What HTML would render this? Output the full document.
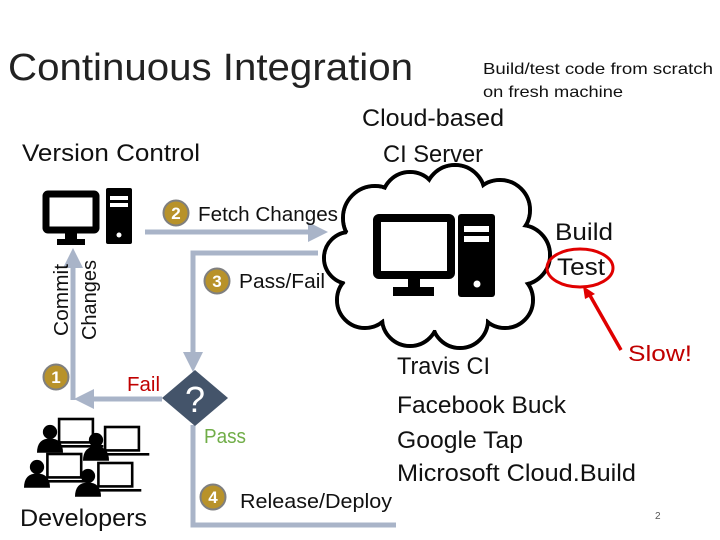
<!DOCTYPE html>
<html><head><meta charset="utf-8"><style>
html,body{margin:0;padding:0;background:#fff;width:720px;height:540px;overflow:hidden}
svg{display:block}
text{font-family:"Liberation Sans",sans-serif}
</style></head><body>
<svg width="720" height="540" viewBox="0 0 720 540" xmlns="http://www.w3.org/2000/svg">
<defs>
<marker id="ah" markerWidth="4" markerHeight="4" refX="2" refY="2" orient="auto" markerUnits="strokeWidth">
<path d="M0,0 L4,2 L0,4 z" fill="#a9b4c8"/></marker>
</defs>
<text x="8" y="80" font-size="38" fill="#222" textLength="405" lengthAdjust="spacingAndGlyphs">Continuous Integration</text>
<text x="483" y="74" font-size="16" fill="#111" textLength="230" lengthAdjust="spacingAndGlyphs">Build/test code from scratch</text>
<text x="483" y="97" font-size="16" fill="#111" textLength="140" lengthAdjust="spacingAndGlyphs">on fresh machine</text>
<text x="362" y="126" font-size="24" fill="#111" textLength="142" lengthAdjust="spacingAndGlyphs">Cloud-based</text>
<text x="383" y="162" font-size="24" fill="#111" textLength="100" lengthAdjust="spacingAndGlyphs">CI Server</text>
<text x="22" y="161" font-size="24" fill="#111" textLength="178" lengthAdjust="spacingAndGlyphs">Version Control</text>

<rect x="46" y="194" width="50" height="36" fill="none" stroke="#000" stroke-width="7" rx="2"/>
<rect x="65" y="232" width="12" height="8" fill="#000"/>
<rect x="57" y="239" width="28" height="6" fill="#000"/>
<rect x="106" y="188" width="26" height="56" fill="#000" rx="2"/>
<rect x="110" y="196" width="18" height="4" fill="#fff"/>
<rect x="110" y="203" width="18" height="4" fill="#fff"/>
<circle cx="119" cy="235" r="2.5" fill="#fff"/>

<g stroke="#a9b4c8" stroke-width="5" fill="none">
<line x1="145" y1="232" x2="318" y2="232" marker-end="url(#ah)"/>
<polyline points="318,253 193,253 193,362" marker-end="url(#ah)"/>
<line x1="73" y1="400" x2="73" y2="258" marker-end="url(#ah)"/>
<line x1="162" y1="399" x2="84" y2="399" marker-end="url(#ah)"/>
<polyline points="193,425 193,525 396,525"/>
</g>

<g font-size="17" font-weight="bold" fill="#fff" text-anchor="middle">
<circle cx="176" cy="213" r="12.5" fill="#b8922a" stroke="#7f7f7f" stroke-width="2"/><text x="176" y="219">2</text>
<circle cx="217" cy="281" r="12.5" fill="#b8922a" stroke="#7f7f7f" stroke-width="2"/><text x="217" y="287">3</text>
<circle cx="56" cy="377" r="12.5" fill="#b8922a" stroke="#7f7f7f" stroke-width="2"/><text x="56" y="383">1</text>
<circle cx="213" cy="497" r="12.5" fill="#b8922a" stroke="#7f7f7f" stroke-width="2"/><text x="213" y="503">4</text>
</g>
<text x="198" y="221" font-size="20" fill="#111" textLength="140" lengthAdjust="spacingAndGlyphs">Fetch Changes</text>
<text x="239" y="288" font-size="20" fill="#111" textLength="86" lengthAdjust="spacingAndGlyphs">Pass/Fail</text>
<text x="240" y="508" font-size="20" fill="#111" textLength="152" lengthAdjust="spacingAndGlyphs">Release/Deploy</text>
<text transform="translate(68,300) rotate(-90)" font-size="20" fill="#111" text-anchor="middle" textLength="72" lengthAdjust="spacingAndGlyphs">Commit</text>
<text transform="translate(96,300) rotate(-90)" font-size="20" fill="#111" text-anchor="middle" textLength="80" lengthAdjust="spacingAndGlyphs">Changes</text>
<text x="127" y="391" font-size="20" fill="#c00000" textLength="33" lengthAdjust="spacingAndGlyphs">Fail</text>
<text x="204" y="443" font-size="20" fill="#70ad47" textLength="42" lengthAdjust="spacingAndGlyphs">Pass</text>

<polygon points="195,370 228,398 195,426 162,398" fill="#44546a"/>
<text x="195" y="412" font-size="36" fill="#fff" text-anchor="middle">?</text>

<g fill="#000">
<g transform="translate(50,419) scale(1.3)"><rect x="7" y="0" width="26" height="18" fill="none" stroke="#000" stroke-width="2"/><rect x="3" y="20" width="38" height="2"/><circle cx="0" cy="10" r="5.5"/><path d="M-10,26 Q-10,15 0,15 Q10,15 10,26 z"/></g>
<g transform="translate(96,427) scale(1.3)"><rect x="7" y="0" width="26" height="18" fill="none" stroke="#000" stroke-width="2"/><rect x="3" y="20" width="38" height="2"/><circle cx="0" cy="10" r="5.5"/><path d="M-10,26 Q-10,15 0,15 Q10,15 10,26 z"/></g>
<g transform="translate(37,454) scale(1.3)"><rect x="8" y="0" width="26" height="18" fill="none" stroke="#000" stroke-width="2"/><rect x="3" y="20" width="38" height="2"/><circle cx="0" cy="10" r="5.5"/><path d="M-10,26 Q-10,15 0,15 Q10,15 10,26 z"/></g>
<g transform="translate(88,463) scale(1.3)"><rect x="8" y="0" width="26" height="18" fill="none" stroke="#000" stroke-width="2"/><rect x="3" y="20" width="38" height="2"/><circle cx="0" cy="10" r="5.5"/><path d="M-10,26 Q-10,15 0,15 Q10,15 10,26 z"/></g>
</g>
<text x="20" y="526" font-size="24" fill="#111" textLength="127" lengthAdjust="spacingAndGlyphs">Developers</text>

<g stroke="#000" stroke-width="4" fill="#fff">
<circle cx="375" cy="218" r="32"/><circle cx="410" cy="200" r="28"/><circle cx="455" cy="195" r="30"/><circle cx="500" cy="210" r="30"/>
<circle cx="520" cy="255" r="30"/><circle cx="505" cy="300" r="28"/><circle cx="460" cy="320" r="28"/><circle cx="410" cy="318" r="28"/>
<circle cx="365" cy="300" r="28"/><circle cx="350" cy="258" r="26"/>
</g>
<g fill="#fff">
<circle cx="375" cy="218" r="30"/><circle cx="410" cy="200" r="26"/><circle cx="455" cy="195" r="28"/><circle cx="500" cy="210" r="28"/>
<circle cx="520" cy="255" r="28"/><circle cx="505" cy="300" r="26"/><circle cx="460" cy="320" r="26"/><circle cx="410" cy="318" r="26"/>
<circle cx="365" cy="300" r="26"/><circle cx="350" cy="258" r="24"/>
<ellipse cx="435" cy="260" rx="95" ry="70"/>
</g>
<rect x="377" y="218" width="74" height="57" fill="none" stroke="#000" stroke-width="8" rx="2"/>
<rect x="408" y="279" width="12" height="8" fill="#000"/>
<rect x="393" y="287" width="41" height="9" fill="#000"/>
<rect x="458" y="214" width="37" height="83" fill="#000" rx="3"/>
<rect x="464" y="226" width="25" height="6" fill="#fff"/>
<rect x="464" y="236" width="25" height="6" fill="#fff"/>
<circle cx="477" cy="284" r="3.5" fill="#fff"/>

<text x="555" y="240" font-size="24" fill="#111" textLength="58" lengthAdjust="spacingAndGlyphs">Build</text>
<text x="557" y="275" font-size="24" fill="#111" textLength="48" lengthAdjust="spacingAndGlyphs">Test</text>
<ellipse cx="580" cy="268" rx="33" ry="19" fill="none" stroke="#e00000" stroke-width="3"/>
<line x1="621" y1="350" x2="588" y2="292" stroke="#e00000" stroke-width="3.5"/>
<path d="M583,286 L595,294 L585,299 z" fill="#e00000"/>
<text x="628" y="361" font-size="22" fill="#c00000" textLength="64" lengthAdjust="spacingAndGlyphs">Slow!</text>

<g font-size="24" fill="#111">
<text x="397" y="374" textLength="93" lengthAdjust="spacingAndGlyphs">Travis CI</text>
<text x="397" y="413" textLength="169" lengthAdjust="spacingAndGlyphs">Facebook Buck</text>
<text x="397" y="448" textLength="126" lengthAdjust="spacingAndGlyphs">Google Tap</text>
<text x="397" y="481" textLength="239" lengthAdjust="spacingAndGlyphs">Microsoft Cloud.Build</text>
</g>
<text x="655" y="519" font-size="10" fill="#555">2</text>
</svg>
</body></html>
